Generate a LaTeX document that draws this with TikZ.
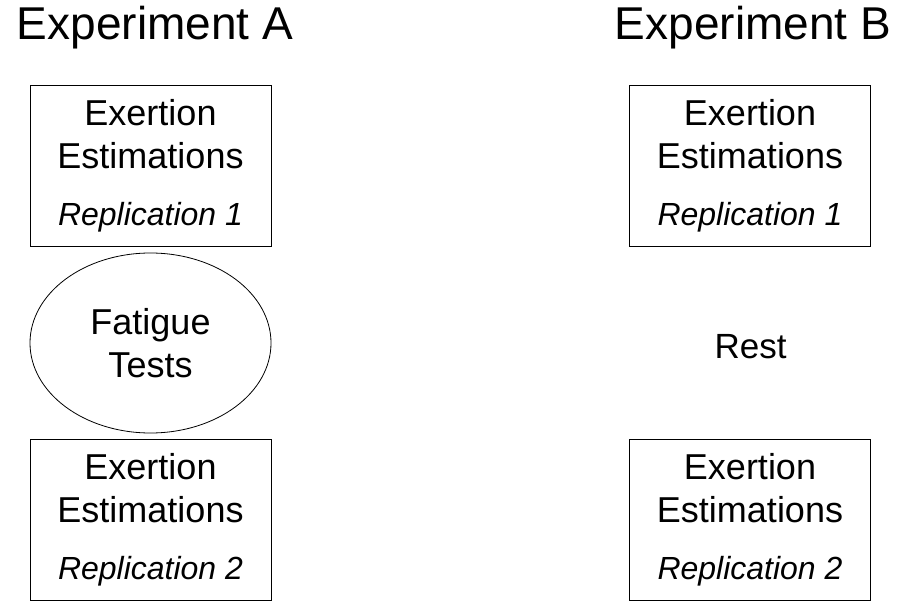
\documentclass[tikz,border=0pt]{standalone}
\usepackage{fontspec}
\setmainfont{Liberation Sans}
\usetikzlibrary{shapes.geometric}

\begin{document}
\begin{tikzpicture}[
    x=1pt, y=-1pt,
    title/.style={font=\fontsize{46}{52}\selectfont, inner sep=0pt},
    estbox/.style={rectangle, draw=black, line width=1pt, minimum width=241pt, minimum height=161pt, align=center, font=\fontsize{36}{43}\selectfont, inner sep=0pt},
    tests/.style={ellipse, draw=black, line width=0.8pt, minimum width=241pt, minimum height=180pt, align=center, font=\fontsize{36}{43}\selectfont, inner sep=0pt},
    restnode/.style={font=\fontsize{35}{42}\selectfont, inner sep=0pt}
]
    \useasboundingbox (0,0) rectangle (901,601);

    \node[title, anchor=base] (expA) at (155,40) {Experiment A};
    \node[title, anchor=base] (expB) at (753,40) {Experiment B};

    \node[estbox] (a1) at (150.5,166) {Exertion\\Estimations\\[14pt]{\fontsize{32}{43}\selectfont\itshape Replication 1}};
    \node[tests] (fatigue) at (150.5,343) {Fatigue\\Tests};
    \node[estbox] (a2) at (150.5,520) {Exertion\\Estimations\\[14pt]{\fontsize{32}{43}\selectfont\itshape Replication 2}};

    \node[estbox] (b1) at (750,166) {Exertion\\Estimations\\[14pt]{\fontsize{32}{43}\selectfont\itshape Replication 1}};
    \node[restnode] (rest) at (750.7,346.5) {Rest};
    \node[estbox] (b2) at (750,520) {Exertion\\Estimations\\[14pt]{\fontsize{32}{43}\selectfont\itshape Replication 2}};
\end{tikzpicture}
\end{document}
